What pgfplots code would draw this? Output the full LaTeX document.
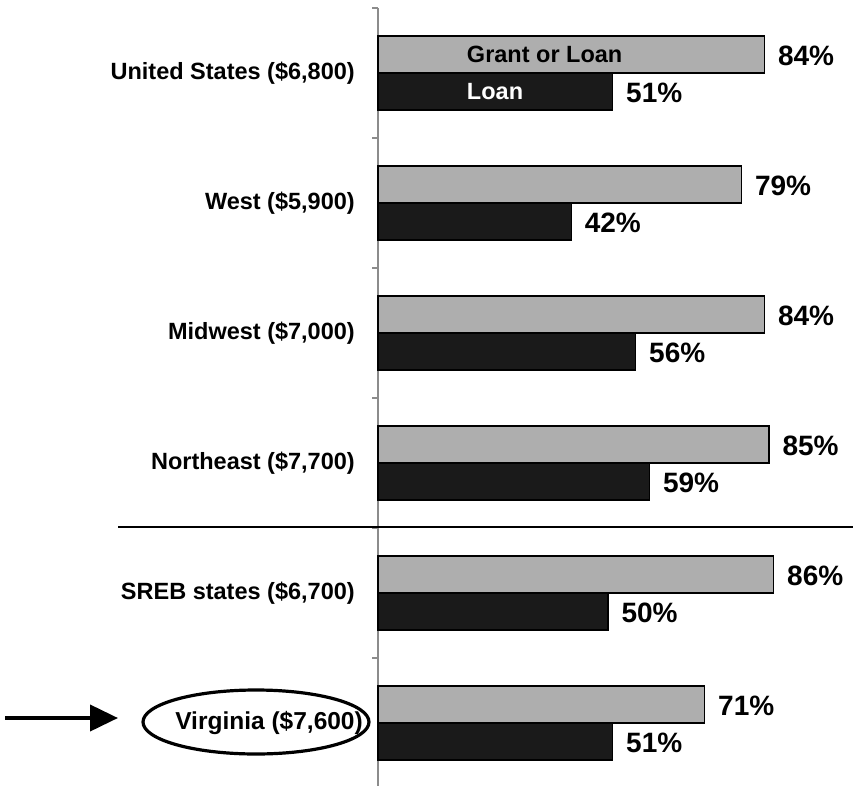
\documentclass[border=0pt]{standalone}
\usepackage{pgfplots}
\pgfplotsset{compat=1.18}
\usepackage{fontspec}
\setmainfont{Liberation Sans}
\usetikzlibrary{arrows.meta}
\definecolor{bargray}{HTML}{AEAEAE}
\definecolor{barblack}{HTML}{1A1A1A}
\definecolor{axisgray}{HTML}{8C8C8C}
\begin{document}
\begin{tikzpicture}[x=1pt,y=1pt]
\useasboundingbox (0,0) rectangle (853,-786);
\begin{axis}[
  at={(378pt,-788pt)}, anchor=south west,
  scale only axis, width=460pt, height=780pt,
  xmin=0, xmax=100, ymin=-0.5, ymax=5.5,
  y dir=reverse,
  axis x line=none, axis y line*=left,
  axis line style={axisgray, line width=1.3pt, -},
  ytick={0,1,2,3,4,5},
  yticklabels={{United States (\$6,800)}, {West (\$5,900)}, {Midwest (\$7,000)}, {Northeast (\$7,700)}, {SREB states (\$6,700)}, {\fontsize{24.5}{27}\selectfont Virginia (\$7,600)\kern-8pt}},
  yticklabel style={font=\fontsize{23.5}{26}\selectfont\bfseries, anchor=east, inner sep=0pt, xshift=-23pt},
  major tick length=0pt,
  extra y ticks={-0.5,0.5,1.5,2.5,3.5,4.5,5.5},
  extra y tick labels={},
  extra y tick style={major tick length=6pt, tick align=outside, tick style={axisgray, line width=1.3pt}},
  tick align=outside,
  xbar, bar width=37pt,
  clip=false,
  /pgf/number format/assume math mode=true,
  point meta=x,
  nodes near coords={\pgfmathprintnumber{\pgfplotspointmeta}\%},
  nodes near coords align=horizontal,
  every node near coord/.append style={anchor=west, inner sep=0pt, xshift=13pt, yshift=-1.5pt, font=\fontsize{28}{30}\selectfont\bfseries, text=black},
]
\addplot[draw=black, line width=1.2pt, fill=bargray, bar shift=18.5pt] coordinates {
  (84,0) (79,1) (84,2) (85,3) (86,4) (71,5)};
\addplot[draw=black, line width=1.2pt, fill=barblack, bar shift=-18.5pt] coordinates {
  (51,0) (42,1) (56,2) (59,3) (50,4) (51,5)};
\node[anchor=west, inner sep=0pt, font=\fontsize{23.5}{26}\selectfont\bfseries] at (axis cs:19.3,-0.142) {Grant or Loan};
\node[anchor=west, inner sep=0pt, text=white, font=\fontsize{23.5}{26}\selectfont\bfseries] at (axis cs:19.3,0.142) {Loan};
\end{axis}
\draw[line width=2.5pt] (118,-527) -- (853,-527);
\draw[line width=3.2pt] (256,-722) ellipse (113 and 32);
\draw[line width=4pt, -{Triangle[length=28pt,width=26pt]}] (5,-718) -- (118,-718);
\end{tikzpicture}
\end{document}
